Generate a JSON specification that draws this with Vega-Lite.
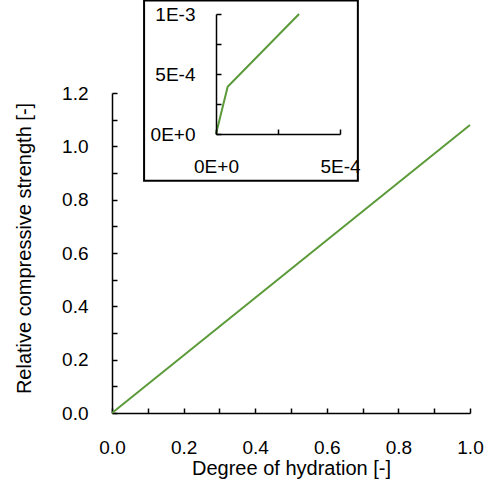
{
  "$schema": "https://vega.github.io/schema/vega-lite/v6.json",
  "width": 358,
  "height": 320,
  "autosize": {"type": "none"},
  "padding": {"left": 112, "top": 93, "right": 22, "bottom": 79},
  "config": {
    "view": {"stroke": null},
    "font": "Liberation Sans",
    "axis": {
      "domainColor": "black",
      "tickColor": "black",
      "domainWidth": 1.5,
      "tickWidth": 1.5,
      "tickSize": -5,
      "labelFontSize": 19,
      "titleFontSize": 20,
      "labelColor": "black",
      "titleColor": "black",
      "titleFontWeight": "normal",
      "labelFont": "Liberation Sans",
      "titleFont": "Liberation Sans",
      "grid": false,
      "labelFlush": false,
      "labelOverlap": false
    }
  },
  "datasets": {
    "main": [
      {"hydration": 0, "strength": 0},
      {"hydration": 1, "strength": 1.08}
    ],
    "inset": [
      {"hydration": 0, "strength": 0},
      {"hydration": 0.000047, "strength": 0.000394},
      {"hydration": 0.000335, "strength": 0.001}
    ],
    "box": [
      {"x1": -0.00029, "x2": 0.000572, "y1": -0.00039, "y2": 0.001112}
    ]
  },
  "layer": [
    {
      "data": {"name": "main"},
      "mark": {"type": "line", "color": "#5b9a39", "strokeWidth": 2},
      "encoding": {
        "x": {
          "field": "hydration",
          "type": "quantitative",
          "scale": {"domain": [0, 1], "nice": false, "zero": false},
          "axis": {
            "orient": "bottom",
            "title": "Degree of hydration [-]",
            "values": [0, 0.1, 0.2, 0.3, 0.4, 0.5, 0.6, 0.7, 0.8, 0.9, 1],
            "labelExpr": "round(datum.value*10)%2==0 ? format(datum.value,'.1f') : ''",
            "labelPadding": 30,
            "titleBaseline": "middle",
            "titleY": 55
          }
        },
        "y": {
          "field": "strength",
          "type": "quantitative",
          "scale": {"domain": [0, 1.2], "nice": false, "zero": false},
          "axis": {
            "orient": "left",
            "title": "Relative compressive strength [-]",
            "values": [0, 0.1, 0.2, 0.3, 0.4, 0.5, 0.6, 0.7, 0.8, 0.9, 1, 1.1, 1.2],
            "labelExpr": "round(datum.value*10)%2==0 ? format(datum.value,'.1f') : ''",
            "labelPadding": 29,
            "titleBaseline": "middle",
            "titleX": -88,
            "titleY": 155
          }
        }
      }
    },
    {
      "data": {"name": "box"},
      "mark": {"type": "rect", "fill": "white", "stroke": "black", "strokeWidth": 2},
      "encoding": {
        "x": {
          "field": "x1",
          "type": "quantitative",
          "scale": {"domain": [0, 0.0005], "range": [104, 228], "nice": false, "zero": false},
          "axis": null
        },
        "x2": {"field": "x2"},
        "y": {
          "field": "y1",
          "type": "quantitative",
          "scale": {"domain": [0, 0.001], "range": [41, -79], "nice": false, "zero": false},
          "axis": null
        },
        "y2": {"field": "y2"}
      }
    },
    {
      "data": {"name": "inset"},
      "mark": {"type": "line", "color": "#5b9a39", "strokeWidth": 2},
      "encoding": {
        "x": {
          "field": "hydration",
          "type": "quantitative",
          "scale": {"domain": [0, 0.0005], "range": [104, 228], "nice": false, "zero": false},
          "axis": {
            "orient": "bottom",
            "offset": -279,
            "zindex": 1,
            "title": null,
            "values": [0, 0.00025, 0.0005],
            "labelExpr": "datum.value==0 ? '0E+0' : datum.value==0.0005 ? '5E-4' : ''",
            "labelPadding": 28
          }
        },
        "y": {
          "field": "strength",
          "type": "quantitative",
          "scale": {"domain": [0, 0.001], "range": [41, -79], "nice": false, "zero": false},
          "axis": {
            "orient": "left",
            "offset": -104,
            "zindex": 1,
            "title": null,
            "values": [0, 0.00025, 0.0005, 0.00075, 0.001],
            "labelExpr": "datum.value==0 ? '0E+0' : datum.value==0.0005 ? '5E-4' : datum.value==0.001 ? '1E-3' : ''",
            "labelPadding": 26
          }
        }
      }
    }
  ],
  "resolve": {
    "scale": {"x": "independent", "y": "independent"},
    "axis": {"x": "independent", "y": "independent"}
  }
}
